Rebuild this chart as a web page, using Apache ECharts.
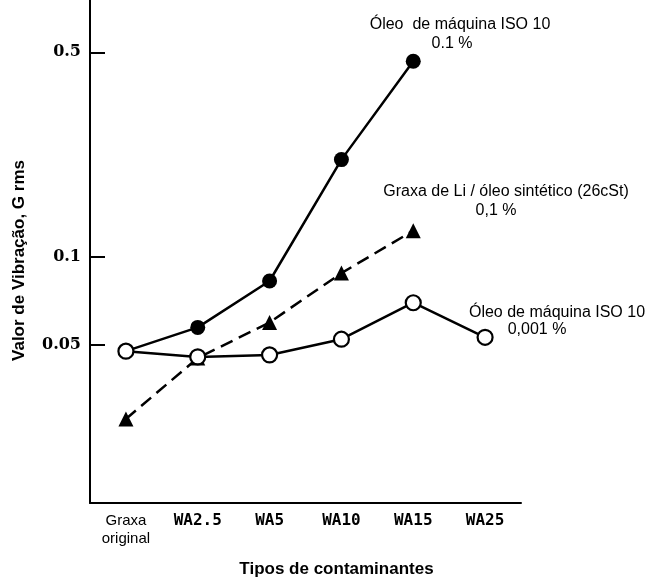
<!DOCTYPE html>
<html lang="pt">
<head>
    <meta charset="UTF-8">
    <title>Valor de vibração por contaminante</title>
    <script src="https://cdn.jsdelivr.net/npm/echarts@6/dist/echarts.min.js"></script>
    <style>
        html, body { margin: 0; padding: 0; background: #fff; }
        #chart { width: 649px; height: 583px; }
    </style>
</head>
<body>
<div id="chart"></div>
<script>
    var categories = ["Graxa original", "WA2.5", "WA5", "WA10", "WA15", "WA25"];
    // Óleo de máquina ISO 10, 0.1 %
    var oleo01 = [0.0477, 0.0575, 0.0828, 0.215, 0.466, null];
    // Graxa de Li / óleo sintético (26cSt), 0,1 %
    var graxaLi = [0.0280, 0.0452, 0.0598, 0.0881, 0.123, null];
    // Óleo de máquina ISO 10, 0,001 %
    var oleo0001 = [0.0477, 0.0456, 0.0463, 0.0524, 0.0698, 0.0532];
    var yTicks = [0.05, 0.1, 0.5];

    var chart = echarts.init(document.getElementById("chart"));
    var sans = "Liberation Sans";
    var noteFont = "16px Liberation Sans";

    function note(x, y, text) {
        return {
            type: "text", x: x, y: y,
            style: { text: text, align: "center", verticalAlign: "middle", font: noteFont, fill: "#000" }
        };
    }

    var option = {
        animation: false,
        backgroundColor: "#fff",
        grid: { left: 90, right: 128, top: 0, bottom: 73 },
        xAxis: {
            type: "category",
            data: categories,
            boundaryGap: true,
            name: "Tipos de contaminantes",
            nameLocation: "middle",
            nameGap: 58,
            nameTextStyle: {
                fontFamily: sans, fontWeight: "bold", fontSize: 17, color: "#000",
                padding: [0, 0, 0, 62]
            },
            axisLine: { lineStyle: { color: "#000", width: 2 } },
            axisTick: { alignWithLabel: true, inside: true, length: 10, lineStyle: { color: "#000", width: 2 } },
            axisLabel: {
                margin: 9,
                interval: 0,
                formatter: function (v, i) {
                    if (i === 0) {
                        var p = v.split(" ");
                        return "{g|" + p[0] + "}\n{g|" + p[1] + "}";
                    }
                    return "{w|" + v + "}";
                },
                rich: {
                    g: { fontFamily: sans, fontSize: 15, color: "#000", lineHeight: 18 },
                    w: { fontFamily: "DejaVu Sans Mono", fontWeight: "bold", fontSize: 16, color: "#000", lineHeight: 18 }
                }
            },
            splitLine: { show: false }
        },
        yAxis: {
            type: "log",
            logBase: 10,
            min: 0.01446,
            max: 0.754,
            name: "Valor de Vibração, G rms",
            nameLocation: "middle",
            nameGap: 62,
            nameRotate: 90,
            nameTextStyle: {
                fontFamily: sans, fontWeight: "bold", fontSize: 17, color: "#000",
                padding: [0, 18, 0, 0]
            },
            axisLine: { show: true, lineStyle: { color: "#000", width: 2 } },
            axisTick: {
                show: true, inside: true, length: 15,
                customValues: yTicks,
                lineStyle: { color: "#000", width: 2 }
            },
            axisLabel: {
                customValues: yTicks,
                margin: 9,
                fontFamily: "DejaVu Serif",
                fontWeight: "bold",
                fontSize: 16,
                color: "#000",
                formatter: function (v) { return String(v); }
            },
            splitLine: { show: false },
            minorTick: { show: false }
        },
        series: [
            {
                name: "Óleo de máquina ISO 10 0.1 %",
                type: "line",
                data: oleo01,
                symbol: "circle",
                symbolSize: 15,
                itemStyle: { color: "#000" },
                lineStyle: { color: "#000", width: 2.5 },
                z: 2
            },
            {
                name: "Graxa de Li / óleo sintético (26cSt) 0,1 %",
                type: "line",
                data: graxaLi,
                symbol: "triangle",
                symbolSize: 15,
                itemStyle: { color: "#000" },
                lineStyle: { color: "#000", width: 2.5, type: [13, 7] },
                z: 3
            },
            {
                name: "Óleo de máquina ISO 10 0,001 %",
                type: "line",
                data: oleo0001,
                symbol: "circle",
                symbolSize: 15,
                itemStyle: { color: "#fff", borderColor: "#000", borderWidth: 2.2 },
                lineStyle: { color: "#000", width: 2.5 },
                z: 4
            }
        ],
        graphic: [
            note(460, 25, "Óleo  de máquina ISO 10"),
            note(452, 44, "0.1 %"),
            note(506, 192, "Graxa de Li / óleo sintético (26cSt)"),
            note(496, 211, "0,1 %"),
            note(557, 313, "Óleo de máquina ISO 10"),
            note(537, 330, "0,001 %")
        ]
    };
    chart.setOption(option);
</script>
</body>
</html>
